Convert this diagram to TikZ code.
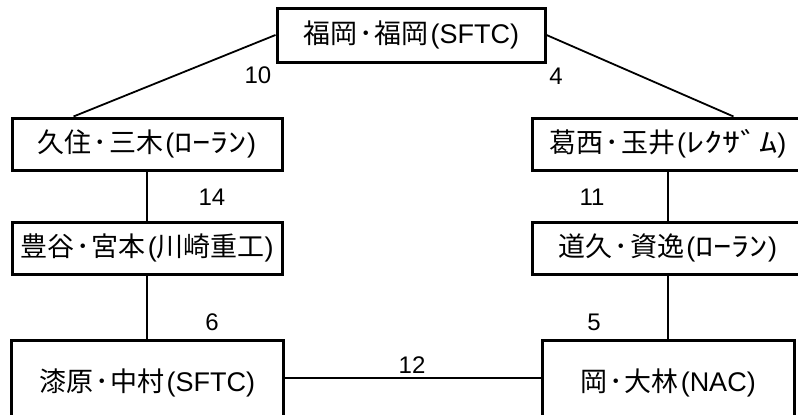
\documentclass[tikz,border=0pt]{standalone}
\usepackage{fontspec}
\setmainfont{Liberation Sans}
\newfontfamily\cjk{Noto Sans CJK JP}
\newfontfamily\kana[FakeStretch=1.35]{Noto Sans CJK JP}
\newcommand\nakaguro{\kern2pt{\cjk ･}\kern2pt}
\newcommand\kakko{\kern2pt(}
\usetikzlibrary{calc}
\begin{document}
\begin{tikzpicture}[x=1pt, y=-1pt,
  pair/.style={draw, line width=3pt, minimum width=270pt, minimum height=52pt, inner sep=0pt, font=\fontsize{27}{30}\selectfont},
  score/.style={inner sep=0pt, font=\fontsize{24}{28}\selectfont},
  link/.style={line width=1.8pt}]
\useasboundingbox (0,0) rectangle (798,415);
\clip (0,0) rectangle (798,415);
% pairs
\node[pair, minimum width=268pt, minimum height=54pt] (fukuoka) at (411,35) {{\cjk 福岡}\nakaguro{\cjk 福岡}\kakko SFTC)};
\node[pair] (kusumi) at (147,144) {{\cjk 久住}\nakaguro{\cjk 三木}\kakko{\kana ﾛｰﾗﾝ})};
\node[pair] (toyotani) at (147,248) {{\cjk 豊谷}\nakaguro{\cjk 宮本}\kakko{\cjk 川崎重工})};
\node[pair, minimum width=272pt, minimum height=86pt] (urushihara) at (147,383) {{\cjk 漆原}\nakaguro{\cjk 中村}\kakko SFTC)};
\node[pair, minimum width=272pt] (kasai) at (668,144) {{\cjk 葛西}\nakaguro{\cjk 玉井}\kakko{\kana ﾚｸｻﾞﾑ})};
\node[pair, minimum width=272pt] (dokyu) at (668,248) {{\cjk 道久}\nakaguro{\cjk 資逸}\kakko{\kana ﾛｰﾗﾝ})};
\node[pair, minimum width=252pt, minimum height=86pt] (oka) at (668,383) {{\cjk 岡}\nakaguro{\cjk 大林}\kakko NAC)};
% links
\draw[link] (fukuoka.west) -- ([xshift=63pt]kusumi.north west);
\draw[link] (fukuoka.east) -- ([xshift=203pt]kasai.north west);
\draw[link] (kusumi) -- (toyotani);
\draw[link] (toyotani) -- (urushihara);
\draw[link] (kasai) -- (dokyu);
\draw[link] (dokyu) -- (oka);
\draw[link] (urushihara.east |- 0,378) -- (oka.west |- 0,378);
% scores
\node[score] (s10) at (258,75) {10};
\node[score] (s4) at (556,76) {4};
\node[score] (s14) at (212,197) {14};
\node[score] (s11) at (592,197) {11};
\node[score] (s6) at (212,322) {6};
\node[score] (s5) at (594,322) {5};
\node[score] (s12) at (412,365) {12};
\end{tikzpicture}
\end{document}
